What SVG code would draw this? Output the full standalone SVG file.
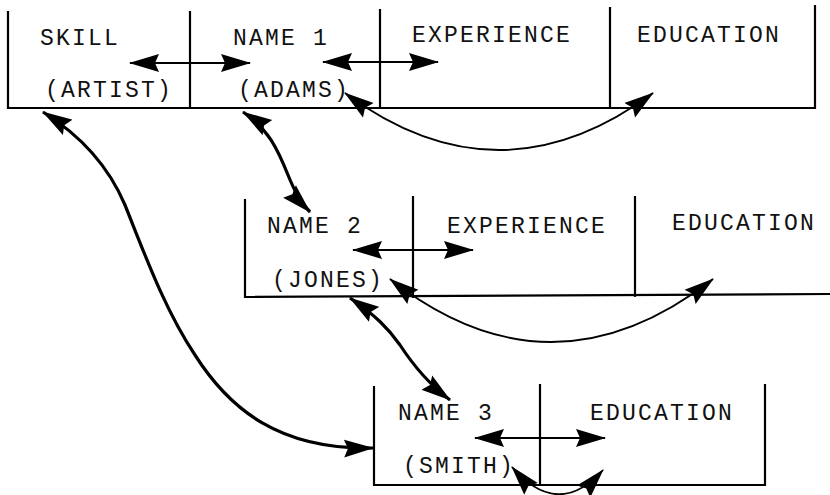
<svg xmlns="http://www.w3.org/2000/svg" width="830" height="495" viewBox="0 0 830 495">
  <style>
    .frame { stroke: #000; stroke-width: 2.2; fill: none; stroke-linecap: square; }
    .lbl { font-family: "Liberation Mono", "DejaVu Sans Mono", monospace; font-size: 23px; letter-spacing: 2.2px; fill: #111; }
    .thin { stroke: #000; stroke-width: 1.8; fill: none; }
    .thick { stroke: #000; stroke-width: 3.2; fill: none; }
    .link { marker-start: url(#head); marker-end: url(#head); }
  </style>
  <defs>
    <marker id="head" markerUnits="userSpaceOnUse" viewBox="0 0 30 20" markerWidth="30" markerHeight="20" refX="29" refY="10" orient="auto-start-reverse">
      <path d="M0,1 L30,10 L0,19 L4,10 z" fill="#000"/>
    </marker>
  </defs>
  <rect width="830" height="495" fill="#fff"/>

  <!-- record 1: skill, name 1, experience, education -->
  <g id="record1">
    <path class="frame" d="M8,12 V108 H815 V6 M190,12 V108 M380,10 V108 M610,8 V108"/>
    <g id="skill">
      <text class="lbl" x="40" y="45">SKILL</text>
      <text class="lbl" x="45" y="97">(ARTIST)</text>
    </g>
    <g id="name1">
      <text class="lbl" x="233" y="45">NAME 1</text>
      <text class="lbl" x="238" y="97">(ADAMS)</text>
    </g>
    <g id="experience1">
      <text class="lbl" x="412" y="42">EXPERIENCE</text>
    </g>
    <g id="education1">
      <text class="lbl" x="637" y="42">EDUCATION</text>
    </g>
  </g>

  <!-- record 2: name 2, experience, education -->
  <g id="record2">
    <path class="frame" d="M245,200 V297 L830,294 M413,197 V297 M635,197 V296"/>
    <g id="name2">
      <text class="lbl" x="267" y="233">NAME 2</text>
      <text class="lbl" x="272" y="287">(JONES)</text>
    </g>
    <g id="experience2">
      <text class="lbl" x="447" y="233">EXPERIENCE</text>
    </g>
    <g id="education2">
      <text class="lbl" x="672" y="230">EDUCATION</text>
    </g>
  </g>

  <!-- record 3: name 3, education -->
  <g id="record3">
    <path class="frame" d="M374,387 V485 H765 V385 M540,385 V485"/>
    <g id="name3">
      <text class="lbl" x="398" y="420">NAME 3</text>
      <text class="lbl" x="403" y="473">(SMITH)</text>
    </g>
    <g id="education3">
      <text class="lbl" x="590" y="420">EDUCATION</text>
    </g>
  </g>

  <!-- connectors -->
  <g id="connectors">
    <!-- field-to-field links inside records -->
    <path class="thin link" d="M130,63 H250"/>
    <path class="thin link" d="M323,62 H438"/>
    <path class="thin link" d="M353,250 H473"/>
    <path class="thin link" d="M475,438 H605"/>
    <!-- name to education arcs -->
    <path class="thin link" d="M345,93 Q499,207 653,93"/>
    <path class="thin link" d="M390,279 Q551,405 713,279"/>
    <path class="thin link" d="M512,467 Q558,520 603,470"/>
    <!-- record-to-record chains -->
    <path class="thick link" d="M243,112 C268,128 278,150 288,175 C295,192 300,202 310,212"/>
    <path class="thick link" d="M350,298 C375,315 388,328 400,345 C415,368 430,385 450,400"/>
    <path class="thick link" d="M43,112 C80,135 108,165 125,205 C145,255 165,310 195,355 C230,410 280,450 373,448"/>
  </g>
</svg>
